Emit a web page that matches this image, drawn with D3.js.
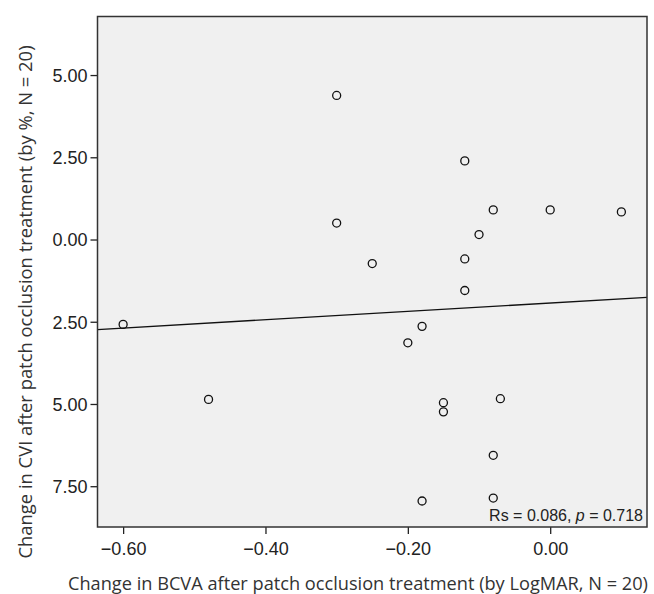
<!DOCTYPE html>
<html>
<head>
<meta charset="utf-8">
<script src="https://cdn.jsdelivr.net/npm/d3@7"></script>
<style>
  html, body { margin: 0; padding: 0; background: #fff; }
</style>
</head>
<body>
<div id="chart"></div>
<script>
// --- Data ---
const bcvaChange = [-0.30, -0.30, -0.25, -0.60, -0.12, -0.08, 0.00, 0.10, -0.10, -0.12,
                    -0.12, -0.18, -0.20, -0.15, -0.15, -0.07, -0.08, -0.18, -0.08, -0.48];
const cviChange  = [4.38, 0.50, -0.73, -2.58, 2.39, 0.90, 0.90, 0.84, 0.15, -0.59,
                    -1.55, -2.64, -3.14, -4.96, -5.24, -4.84, -6.56, -7.95, -7.86, -4.86];
const xTicks = [-0.60, -0.40, -0.20, 0.00];
const yTicks = [5.0, 2.5, 0.0, -2.5, -5.0, -7.5];
const fitIntercept = -1.93;
const fitSlope = 1.27;

const WIDTH = 654;
const HEIGHT = 594;
const margin = { top: 16.5, right: 7, bottom: 67, left: 97.5 };

const svg = d3.select('#chart')
  .append('svg')
  .attr('width', WIDTH)
  .attr('height', HEIGHT);

const innerW = WIDTH - margin.left - margin.right;
const innerH = HEIGHT - margin.top - margin.bottom;

const x = d3.scaleLinear().domain([-0.636, 0.136]).range([0, innerW]);
const y = d3.scaleLinear().domain([-8.74, 6.78]).range([innerH, 0]);

const g = svg.append('g')
  .attr('transform', `translate(${margin.left}, ${margin.top})`);

// Plot background
g.append('rect')
  .attr('width', innerW)
  .attr('height', innerH)
  .attr('fill', '#f0f0f0');

// Axes (the original prints y labels without a minus sign)
const fmt = d3.format('.2f');
const xAxis = g.append('g')
  .attr('transform', `translate(0, ${innerH})`)
  .call(d3.axisBottom(x).tickValues(xTicks).tickSize(7).tickSizeOuter(0)
    .tickFormat(d => fmt(d).replace('-', '\u2212')));

const yAxis = g.append('g')
  .call(d3.axisLeft(y).tickValues(yTicks).tickSize(7).tickSizeOuter(0)
    .tickFormat(d => fmt(Math.abs(d))));

[xAxis, yAxis].forEach(ax => {
  ax.select('.domain').remove();
  ax.selectAll('line').attr('stroke', '#222').attr('stroke-width', 1.3);
  ax.selectAll('text')
    .attr('fill', '#222')
    .attr('font-family', '"Liberation Sans", Arial, sans-serif')
    .attr('font-size', '18px');
});
xAxis.selectAll('text').attr('y', 11).attr('dy', '0.95em');
yAxis.selectAll('text').attr('x', -10).attr('dy', '0.36em');

// Fit line
g.append('line')
  .attr('x1', x(x.domain()[0]))
  .attr('y1', y(fitIntercept + fitSlope * x.domain()[0]))
  .attr('x2', x(x.domain()[1]))
  .attr('y2', y(fitIntercept + fitSlope * x.domain()[1]))
  .attr('stroke', '#111')
  .attr('stroke-width', 1.3);

// Points
g.selectAll('.pt')
  .data(d3.range(bcvaChange.length))
  .join('circle')
  .attr('class', 'pt')
  .attr('cx', i => x(bcvaChange[i]))
  .attr('cy', i => y(cviChange[i]))
  .attr('r', 4)
  .attr('fill', 'none')
  .attr('stroke', '#111')
  .attr('stroke-width', 1.3);

// Frame
g.append('rect')
  .attr('width', innerW)
  .attr('height', innerH)
  .attr('fill', 'none')
  .attr('stroke', '#333')
  .attr('stroke-width', 1.5);

// Correlation note
const note = g.append('text')
  .attr('x', innerW - 4)
  .attr('y', innerH - 6.5)
  .attr('text-anchor', 'end')
  .attr('fill', '#222')
  .attr('font-family', '"Liberation Sans", Arial, sans-serif')
  .attr('font-size', '16px');
note.append('tspan').text('Rs = 0.086, ');
note.append('tspan').attr('font-style', 'italic').text('p');
note.append('tspan').text(' = 0.718');

// Axis titles
svg.append('text')
  .attr('x', 358)
  .attr('y', 590)
  .attr('text-anchor', 'middle')
  .attr('fill', '#333')
  .attr('font-family', '"Open Sans", "Noto Sans", sans-serif')
  .attr('font-size', '18.2px')
  .text('Change in BCVA after patch occlusion treatment (by LogMAR, N = 20)');

svg.append('text')
  .attr('transform', `translate(32, 302) rotate(-90)`)
  .attr('text-anchor', 'middle')
  .attr('fill', '#333')
  .attr('font-family', '"Open Sans", "Noto Sans", sans-serif')
  .attr('font-size', '18.4px')
  .text('Change in CVI after patch occlusion treatment (by %, N = 20)');
</script>
</body>
</html>
